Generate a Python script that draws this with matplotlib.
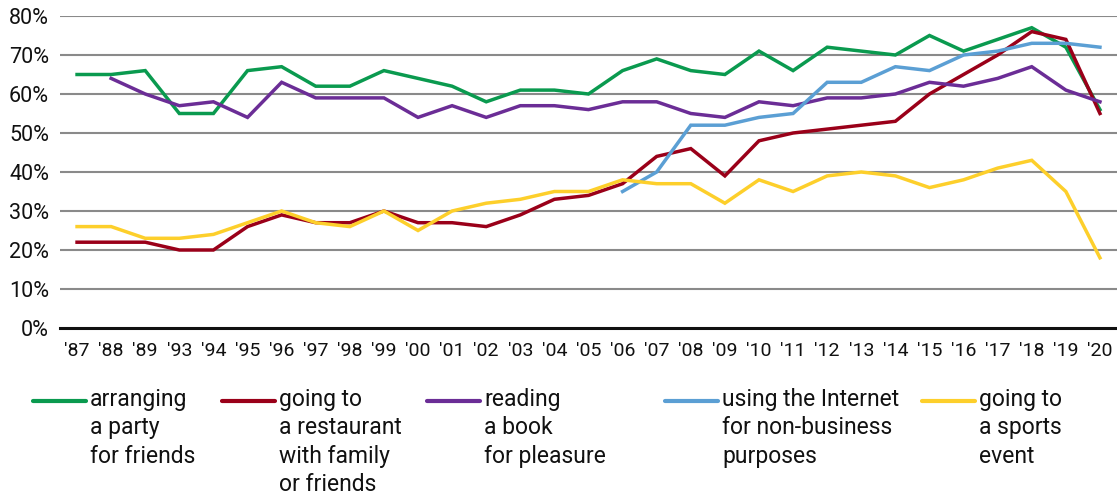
import matplotlib
matplotlib.use("Agg")
import matplotlib.pyplot as plt
from matplotlib.lines import Line2D
import numpy as np

plt.rcParams['font.family'] = ['Roboto', 'DejaVu Sans']

years = ["'87", "'88", "'89", "'93", "'94", "'95", "'96", "'97", "'98", "'99",
         "'00", "'01", "'02", "'03", "'04", "'05", "'06", "'07", "'08", "'09",
         "'10", "'11", "'12", "'13", "'14", "'15", "'16", "'17", "'18", "'19", "'20"]

party = [65, 65, 66, 55, 55, 66, 67, 62, 62, 66,
         64, 62, 58, 61, 61, 60, 66, 69, 66, 65,
         71, 66, 72, 71, 70, 75, 71, 74, 77, 72, 56]
restaurant = [22, 22, 22, 20, 20, 26, 29, 27, 27, 30,
              27, 27, 26, 29, 33, 34, 37, 44, 46, 39,
              48, 50, 51, 52, 53, 60, 65, 70, 76, 74, 55]
reading = [None, 64, 60, 57, 58, 54, 63, 59, 59, 59,
           54, 57, 54, 57, 57, 56, 58, 58, 55, 54,
           58, 57, 59, 59, 60, 63, 62, 64, 67, 61, 58]
internet = [None] * 16 + [35, 40, 52, 52,
                          54, 55, 63, 63, 67, 66, 70, 71, 73, 73, 72]
sports = [26, 26, 23, 23, 24, 27, 30, 27, 26, 30,
          25, 30, 32, 33, 35, 35, 38, 37, 37, 32,
          38, 35, 39, 40, 39, 36, 38, 41, 43, 35, 18]

labels = ["arranging\na party\nfor friends",
          "going to\na restaurant\nwith family\nor friends",
          "reading\na book\nfor pleasure",
          "using the Internet\nfor non-business\npurposes",
          "going to\na sports\nevent"]
colors = ["#0a9a4f", "#9a0019", "#6b2d96", "#5b9fd4", "#fdcf2b"]
series = [party, restaurant, reading, internet, sports]
yticks = [0, 10, 20, 30, 40, 50, 60, 70, 80]

W, H = 1117, 499
fig = plt.figure(figsize=(W / 100, H / 100), dpi=100)
ax = fig.add_axes([60 / W, 1 - 328 / H, 1 - 60 / W, (328 - 16) / H])

x = np.arange(len(years))
for s, c in zip(series, colors):
    y = np.array([np.nan if v is None else v for v in s], dtype=float)
    ax.plot(x, y, color=c, lw=2.5, solid_joinstyle='miter', zorder=3)

ax.set_xlim(-0.5, len(years) - 0.5)
ax.set_ylim(0, 80)
ax.set_yticks(yticks)
ax.set_yticklabels([f"{v}%" for v in yticks], fontsize=15.5, color="#111111")
ax.set_xticks(x)
ax.set_xticklabels(years, fontsize=14, color="#111111")
ax.tick_params(axis='both', length=0)
ax.tick_params(axis='y', pad=8)
ax.tick_params(axis='x', pad=10)
for sp in ax.spines.values():
    sp.set_visible(False)
for v in yticks[1:]:
    ax.axhline(v, color="#8a8a8a", lw=1.5, zorder=1)
ax.axhline(0, color="#111111", lw=2.2, zorder=2, clip_on=False)

# legend
handle_x = [33, 222, 427, 665, 922]
for hx, lab, c in zip(handle_x, labels, colors):
    yy = 1 - 401 / H
    fig.add_artist(Line2D([hx / W, (hx + 53) / W], [yy, yy], color=c, lw=3,
                          solid_capstyle='round', transform=fig.transFigure))
    fig.text((hx + 57) / W, 1 - 388 / H, lab, fontsize=16.5, color="#111111",
             va='top', ha='left', linespacing=1.3)

fig.savefig("out.png", dpi=100)
